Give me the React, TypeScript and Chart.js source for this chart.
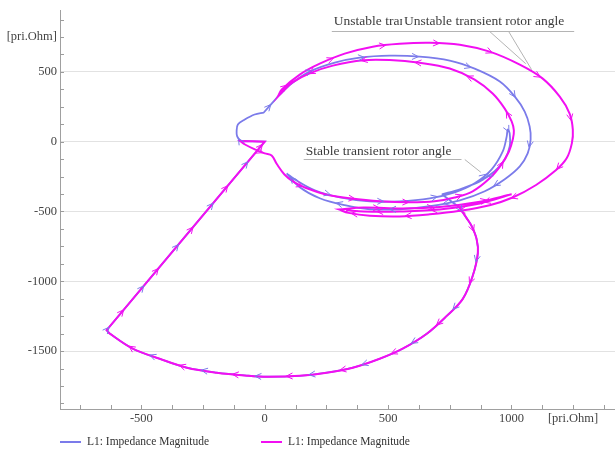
import React, { useEffect, useRef } from "react";
import { Chart, registerables } from "chart.js";

Chart.register(...registerables);

// ---------- data (R and X in pri.Ohm) ----------
const seriesLabels = ["L1: Impedance Magnitude", "L1: Impedance Magnitude"];
const seriesColors = ["#7b7bea", "#f20ff2"];

// Stable case trajectory
const stableR = [
  718, 762, 791, 819, 839, 859, 864, 843, 803, 738, 657, 559, 466, 357, 251, 142, 8, -73, -195, -316, -426, -535, -628, -641, -641,
  0, 0, -100, -100,
  -112, -114, -109, -81, -41, -4, -4, 53, 53,
  109, 182, 284, 385, 507, 628, 750, 851, 953, 1014, 1054, 1074, 1078, 1066, 1034, 973, 892, 791, 669, 547, 426, 324, 223, 142, 89, 89,
  122, 203, 304, 426, 547, 669, 770, 851, 920, 965, 981, 985, 993, 993, 973, 932, 872, 791, 718,
];
const stableX = [
  -377, -435, -476, -549, -605, -698, -798, -962, -1126, -1248, -1376, -1483, -1555, -1619, -1655, -1677, -1684, -1676, -1655, -1619, -1555, -1483, -1375, -1350, -1350,
  0, 0, 5, 5,
  40, 74, 124, 159, 195, 209, 209, 323, 323,
  416, 502, 566, 602, 616, 609, 581, 523, 431, 323, 216, 109, 16, -84, -177, -269, -355, -420, -462, -484, -484, -455, -405, -326, -227, -227,
  -270, -348, -398, -427, -427, -406, -363, -298, -198, -70, 38, 87, 59, -34, -127, -212, -284, -341, -377,
];

// Unstable case trajectory
const unstableR = [
  791, 819, 839, 859, 864, 843, 803, 738, 657, 559, 466, 357, 251, 142, 8, -73, -195, -316, -426, -535, -628, -641, -641,
  0, 0, -100, -100,
  -80, -40, 0, 28, 49, 80, 114, 150, 182, 243, 345, 466, 588, 689, 770, 843, 912, 960, 990,
  1006, 1010, 1001, 973, 924, 851, 750, 628, 507, 400, 276, 182, 114, 73, 53, 53,
  69, 142, 223, 324, 438, 547, 669, 791, 912, 1034, 1127, 1196, 1236, 1249, 1245, 1224, 1180, 1100, 1005, 912, 791, 669, 547, 426, 340, 300, 300,
  400, 560, 709, 872, 1001, 1001, 872, 709, 547, 400, 330,
];
const unstableX = [
  -476, -549, -605, -698, -798, -962, -1126, -1248, -1376, -1483, -1555, -1619, -1655, -1677, -1684, -1676, -1655, -1619, -1555, -1483, -1375, -1350, -1350,
  0, 0, 5, 5,
  -20, -55, -84, -98, -160, -235, -284, -318, -341, -376, -405, -427, -434, -427, -400, -355, -262, -162, -70,
  20, 80, 145, 237, 345, 445, 524, 565, 585, 584, 545, 490, 426, 360, 323, 323,
  374, 481, 559, 631, 681, 702, 709, 695, 645, 552, 452, 323, 202, 87, -12, -119, -205, -310, -400, -455, -495, -520, -535, -530, -510, -485, -485,
  -472, -478, -468, -430, -377, -377, -442, -486, -500, -500, -490,
];

// axes
const xMin = -830;
const xMax = 1420;
const yMin = -1915;
const yMax = 940;
const majorStep = 500;
const minorStep = 125;
const unitLabel = "[pri.Ohm]";
const xTickValues = [-500, 0, 500, 1000];
const xUnitTick = 1250;
const yUnitTick = 750;

// annotations (data coordinates)
const annotationTexts = ["Unstable transient rotor angle", "Unstable transient rotor angle", "Stable transient rotor angle"];
const annotationTextR = [280, 565, 166];
const annotationTextX = [859, 859, -69];
const annotationUnderlineX = [795, 795, -127];
const annotationLeaderStartR = [912, 989, 811];
const annotationTargetR = [1058, 1082, 876];
const annotationTargetX = [559, 516, -219];
const annotationOpaque = [false, true, false];

const FONT = "'Liberation Serif', 'Times New Roman', serif";

export default function App() {
  const ref = useRef<HTMLCanvasElement>(null);

  useEffect(() => {
    document.body.style.margin = "0";
    const canvas = ref.current!;
    const toPts = (r: number[], x: number[]) => r.map((v, i) => ({ x: v, y: x[i] }));
    const isMajor = (v: number) => Math.abs(v % majorStep) < 1e-6;

    const minorTicks = {
      id: "minorTicks",
      beforeDatasetsDraw(chart: any) {
        const { ctx, chartArea: a, scales } = chart;
        const xs = scales.x;
        const ys = scales.y;
        ctx.save();
        ctx.strokeStyle = "#9c9c9c";
        ctx.lineWidth = 1;
        ctx.beginPath();
        for (let v = Math.ceil(xs.min / minorStep) * minorStep; v <= xs.max; v += minorStep) {
          const px = Math.round(xs.getPixelForValue(v)) + 0.5;
          ctx.moveTo(px, a.bottom);
          ctx.lineTo(px, a.bottom - 4);
        }
        for (let v = Math.ceil(ys.min / minorStep) * minorStep; v <= ys.max; v += minorStep) {
          const py = Math.round(ys.getPixelForValue(v)) + 0.5;
          ctx.moveTo(a.left, py);
          ctx.lineTo(a.left + 4, py);
        }
        ctx.stroke();
        // x-axis tick labels
        ctx.font = `12.5px ${FONT}`;
        ctx.fillStyle = "#444444";
        ctx.textAlign = "center";
        ctx.textBaseline = "middle";
        const ly = a.bottom + 9.5;
        xTickValues.forEach((v) => ctx.fillText(String(v), xs.getPixelForValue(v), ly));
        ctx.fillText(unitLabel, xs.getPixelForValue(xUnitTick), ly);
        ctx.restore();
      },
    };

    const arrows = {
      id: "arrows",
      afterDatasetsDraw(chart: any) {
        const { ctx, chartArea: a, scales } = chart;
        const xs = scales.x;
        const ys = scales.y;
        const spacing = 54;
        const L = 7;
        const h = 0.45;
        ctx.save();
        ctx.beginPath();
        ctx.rect(a.left, a.top, a.right - a.left, a.bottom - a.top);
        ctx.clip();
        chart.data.datasets.forEach((ds: any) => {
          const pts = ds.data.map((p: any) => [xs.getPixelForValue(p.x), ys.getPixelForValue(p.y)]);
          ctx.strokeStyle = ds.borderColor;
          ctx.lineWidth = 1;
          let acc = 0;
          let next = spacing / 2;
          for (let i = 1; i < pts.length; i++) {
            const dx = pts[i][0] - pts[i - 1][0];
            const dy = pts[i][1] - pts[i - 1][1];
            const len = Math.hypot(dx, dy);
            if (len < 1e-6) continue;
            const ang = Math.atan2(dy, dx);
            while (next <= acc + len) {
              const t = (next - acc) / len;
              const px = pts[i - 1][0] + dx * t;
              const py = pts[i - 1][1] + dy * t;
              ctx.beginPath();
              ctx.moveTo(px - L * Math.cos(ang - h), py - L * Math.sin(ang - h));
              ctx.lineTo(px, py);
              ctx.lineTo(px - L * Math.cos(ang + h), py - L * Math.sin(ang + h));
              ctx.stroke();
              next += spacing;
            }
            acc += len;
          }
        });
        ctx.restore();
      },
    };

    const annotations = {
      id: "annotations",
      afterDraw(chart: any) {
        const { ctx, scales } = chart;
        const xs = scales.x;
        const ys = scales.y;
        ctx.save();
        ctx.font = `13.5px ${FONT}`;
        ctx.textBaseline = "middle";
        annotationTexts.forEach((txt, i) => {
          const tx = xs.getPixelForValue(annotationTextR[i]);
          const ty = ys.getPixelForValue(annotationTextX[i]);
          const uy = Math.round(ys.getPixelForValue(annotationUnderlineX[i])) + 0.5;
          const w = ctx.measureText(txt).width;
          if (annotationOpaque[i]) {
            ctx.fillStyle = "#ffffff";
            ctx.fillRect(tx - 2, ty - 9, w + 4, uy - (ty - 9) - 1);
          }
          ctx.fillStyle = "#3c3c3c";
          ctx.fillText(txt, tx, ty);
          ctx.strokeStyle = "#b4b4b4";
          ctx.lineWidth = 1;
          ctx.beginPath();
          ctx.moveTo(tx - 2, uy);
          ctx.lineTo(tx + w + 10, uy);
          ctx.moveTo(xs.getPixelForValue(annotationLeaderStartR[i]), uy);
          ctx.lineTo(xs.getPixelForValue(annotationTargetR[i]), ys.getPixelForValue(annotationTargetX[i]));
          ctx.stroke();
        });
        ctx.restore();
      },
    };

    const bottomLegend = {
      id: "bottomLegend",
      afterDraw(chart: any) {
        const { ctx, chartArea } = chart;
        ctx.save();
        ctx.font = `11.5px ${FONT}`;
        ctx.textBaseline = "middle";
        let x = chartArea.left;
        const y = chart.height - 8;
        chart.data.datasets.forEach((ds: any) => {
          ctx.strokeStyle = ds.borderColor;
          ctx.lineWidth = 2;
          ctx.beginPath();
          ctx.moveTo(x, y);
          ctx.lineTo(x + 21, y);
          ctx.stroke();
          ctx.fillStyle = "#333333";
          ctx.fillText(ds.label, x + 27, y);
          x += 27 + ctx.measureText(ds.label).width + 52;
        });
        ctx.restore();
      },
    };

    const tickFont = { family: FONT, size: 12.5 };

    const chart = new Chart(canvas, {
      type: "scatter",
      data: {
        datasets: [
          {
            label: seriesLabels[0],
            data: toPts(stableR, stableX),
            showLine: true,
            borderColor: seriesColors[0],
            backgroundColor: seriesColors[0],
            borderWidth: 1.8,
            pointRadius: 0,
            tension: 0.35,
            order: 1,
          },
          {
            label: seriesLabels[1],
            data: toPts(unstableR, unstableX),
            showLine: true,
            borderColor: seriesColors[1],
            backgroundColor: seriesColors[1],
            borderWidth: 2,
            pointRadius: 0,
            tension: 0.35,
            order: 0,
          },
        ],
      },
      options: {
        animation: false,
        responsive: false,
        events: [],
        layout: { padding: { top: 8, left: 0, right: 0, bottom: 41 } },
        plugins: { legend: { display: false }, tooltip: { enabled: false } },
        scales: {
          x: {
            type: "linear",
            min: xMin,
            max: xMax,
            ticks: {
              display: false,
              stepSize: minorStep,
              maxTicksLimit: 200,
              autoSkip: false,
            },
            grid: {
              drawTicks: false,
              color: (c: any) => (c.tick && isMajor(c.tick.value) ? "#e2e2e2" : "rgba(0,0,0,0)"),
            },
            border: { color: "#a0a0a0" },
          },
          y: {
            type: "linear",
            min: yMin,
            max: yMax,
            afterFit: (s: any) => {
              s.width = 60;
            },
            ticks: {
              stepSize: minorStep,
              maxTicksLimit: 200,
              autoSkip: false,
              padding: 3,
              font: tickFont,
              color: "#444444",
              callback: (v: any) => {
                const n = Number(v);
                if (Math.abs(n - yUnitTick) < 1e-6) return unitLabel;
                return isMajor(n) ? String(n) : "";
              },
            },
            grid: {
              drawTicks: false,
              color: (c: any) => (c.tick && isMajor(c.tick.value) ? "#e2e2e2" : "rgba(0,0,0,0)"),
            },
            border: { color: "#a0a0a0" },
          },
        },
      },
      plugins: [minorTicks, arrows, annotations, bottomLegend],
    } as any);

    return () => chart.destroy();
  }, []);

  return <canvas ref={ref} width={615} height={450} style={{ display: "block" }} />;
}
